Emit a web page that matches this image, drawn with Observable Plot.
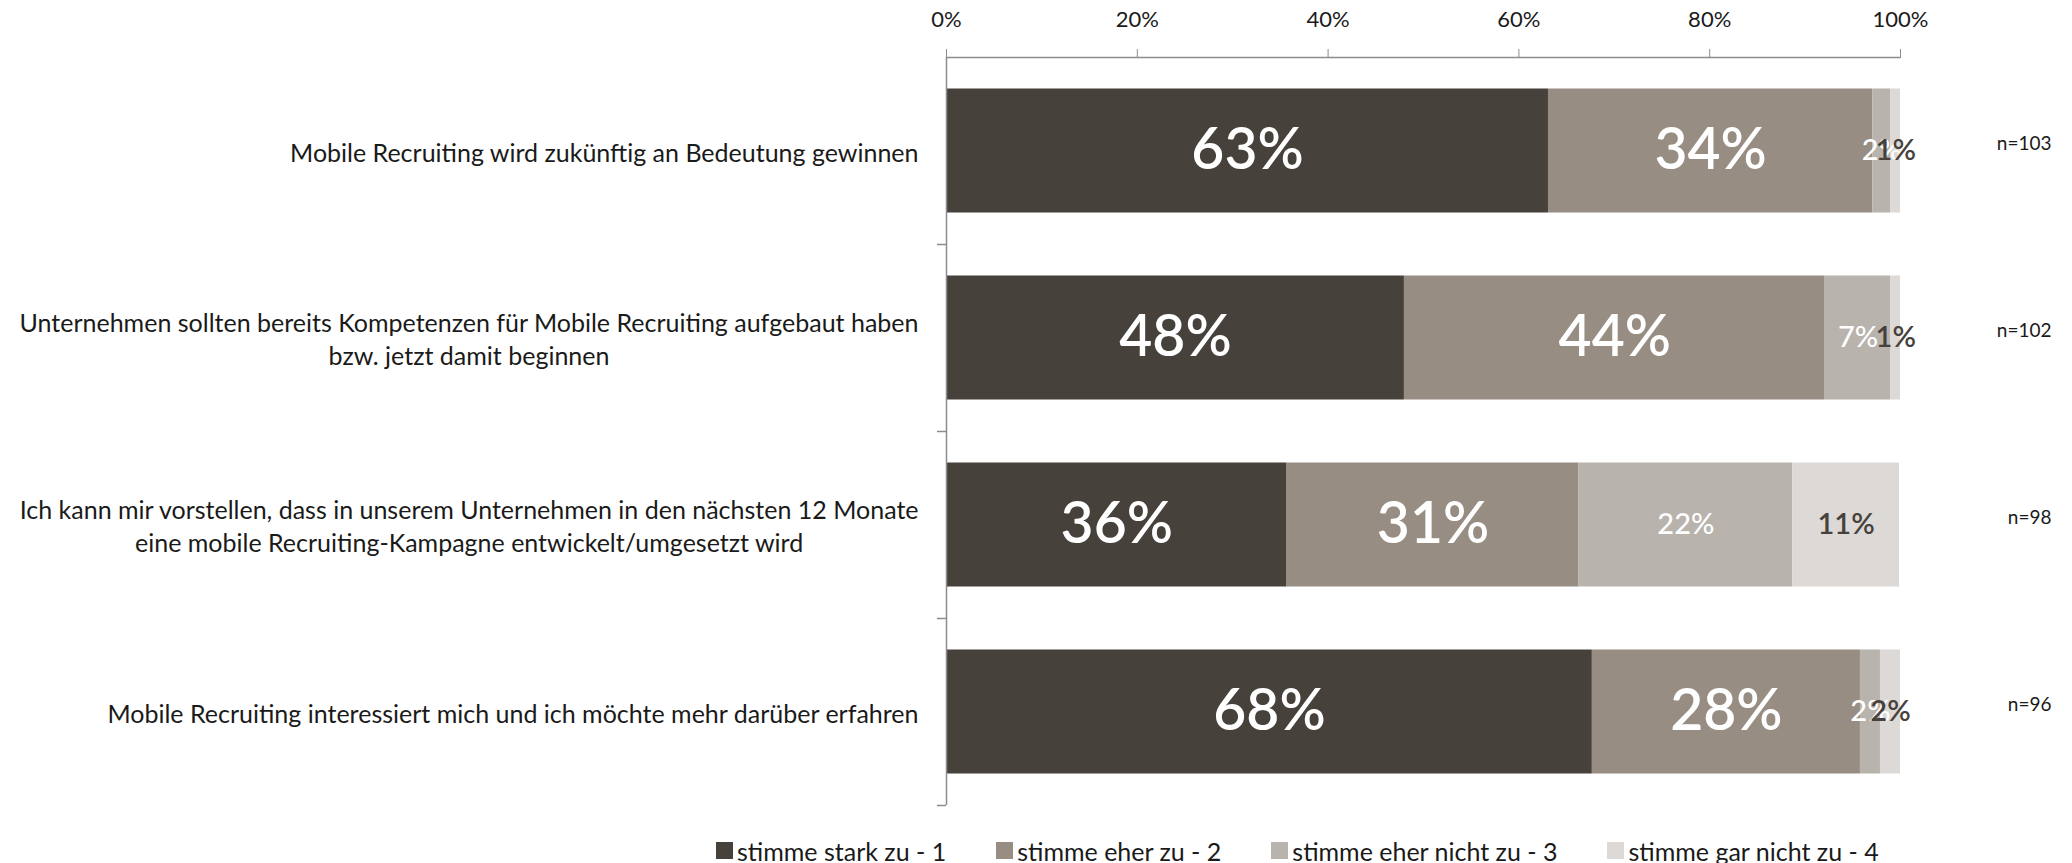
<!DOCTYPE html>
<html>
<head>
<meta charset="utf-8">
<script src="https://cdn.jsdelivr.net/npm/d3@7"></script>
<script src="https://cdn.jsdelivr.net/npm/@observablehq/plot@0.6"></script>
<style>
  html, body { margin: 0; padding: 0; background: #ffffff; }
  body { width: 2072px; height: 863px; overflow: hidden; font-family: Lato, "Noto Sans", sans-serif; }
  #legend { display: flex; align-items: center; height: 33px; padding-left: 716px; padding-top: 8px; box-sizing: border-box; font-size: 25px; color: #1a1a1a; }
  #legend .item { display: flex; align-items: center; margin-right: 50px; white-space: nowrap; }
  #legend .sw { width: 17px; height: 17px; margin-right: 4px; display: inline-block; }
</style>
</head>
<body>
<div id="chart"></div>
<div id="legend"></div>
<script>
const questions = [
  "Mobile Recruiting wird zukünftig an Bedeutung gewinnen",
  "Unternehmen sollten bereits Kompetenzen für Mobile Recruiting aufgebaut haben\nbzw. jetzt damit beginnen",
  "Ich kann mir vorstellen, dass in unserem Unternehmen in den nächsten 12 Monate\neine mobile Recruiting-Kampagne entwickelt/umgesetzt wird",
  "Mobile Recruiting interessiert mich und ich möchte mehr darüber erfahren"
];
const levels = ["stimme stark zu - 1", "stimme eher zu - 2", "stimme eher nicht zu - 3", "stimme gar nicht zu - 4"];
const colors = ["#47413c", "#978d83", "#b8b3ad", "#dcd9d6"];
const starkZu = [63.1, 48.0, 35.7, 67.7];
const eherZu = [34.0, 44.1, 30.6, 28.1];
const eherNichtZu = [1.9, 6.9, 22.4, 2.1];
const garNichtZu = [1.0, 1.0, 11.2, 2.1];
const nValues = [103, 102, 98, 96];
const xTicks = [0, 20, 40, 60, 80, 100];

const series = [starkZu, eherZu, eherNichtZu, garNichtZu];
const rows = [];
questions.forEach((q, i) => {
  levels.forEach((lev, j) => {
    rows.push({q, level: lev, li: j, pct: series[j][i]});
  });
});

const W = 2072, H = 830, mT = 57, mB = 25, mL = 946, mR = 172;
const step = (H - mT - mB) / questions.length;
const barH = 124;
const inset = (step - barH) / 2;
const axisGray = "#8c8c8c";
const ink = "#1a1a1a";

const stackOpts = {y: "q", x: "pct", text: d => Math.round(d.pct) + "%"};

const chart = Plot.plot({
  width: W, height: H,
  marginTop: mT, marginBottom: mB, marginLeft: mL, marginRight: mR,
  style: {fontFamily: "Lato, 'Noto Sans', sans-serif", background: "#ffffff", color: ink},
  x: {domain: [0, 100], label: null},
  y: {domain: questions, padding: 0, label: null},
  color: {domain: levels, range: colors},
  marks: [
    Plot.barX(rows, {y: "q", x: "pct", fill: "level", insetTop: inset, insetBottom: inset}),
    Plot.text(rows, Plot.filter(d => d.li <= 1, Plot.stackX({...stackOpts, fill: "#ffffff", fontSize: 57, fontWeight: 600}))),
    Plot.text(rows, Plot.filter(d => d.li === 2, Plot.stackX({...stackOpts, fill: "#ffffff", fontSize: 29, fontWeight: 500}))),
    Plot.text(rows, Plot.filter(d => d.li === 3, Plot.stackX({...stackOpts, fill: "#47413c", fontSize: 29, fontWeight: 600}))),
    Plot.text(questions, {y: d => d, text: (d, i) => "n=" + nValues[i], frameAnchor: "right", textAnchor: "end", dx: 151, dy: -7, fontSize: 19, fill: ink}),
    Plot.axisX(xTicks, {anchor: "top", tickFormat: d => d + "%", tickSize: 9, tickPadding: 22, stroke: axisGray, fill: ink, fontSize: 22, label: null}),
    Plot.axisY({tickSize: 0, tickPadding: 28, textAnchor: "middle", lineHeight: 1.32, fill: ink, fontSize: 25, label: null}),
    Plot.ruleX([0], {stroke: axisGray, strokeWidth: 1.5}),
    Plot.ruleY([questions[0]], {y: d => d, dy: -step / 2, x1: 0, x2: 100, stroke: axisGray, strokeWidth: 1.5}),
    Plot.ruleY(questions, {y: d => d, dy: step / 2, x1: 0, x2: 0, insetLeft: -9, stroke: axisGray, strokeWidth: 1.5})
  ]
});
document.getElementById("chart").appendChild(chart);

function centerLabels() {
  chart.querySelectorAll('g[aria-label="y-axis tick label"] text').forEach(t => {
    const w = t.getBBox().width;
    const tr = t.getAttribute("transform") || "";
    t.setAttribute("transform", tr + ` translate(${-w / 2},0)`);
  });
}
if (document.fonts && document.fonts.ready) {
  document.fonts.ready.then(centerLabels);
} else {
  centerLabels();
}

const legend = document.getElementById("legend");
levels.forEach((lev, j) => {
  const item = document.createElement("div");
  item.className = "item";
  const sw = document.createElement("span");
  sw.className = "sw";
  sw.style.background = colors[j];
  const tx = document.createElement("span");
  tx.textContent = lev;
  item.appendChild(sw);
  item.appendChild(tx);
  legend.appendChild(item);
});
</script>
</body>
</html>
